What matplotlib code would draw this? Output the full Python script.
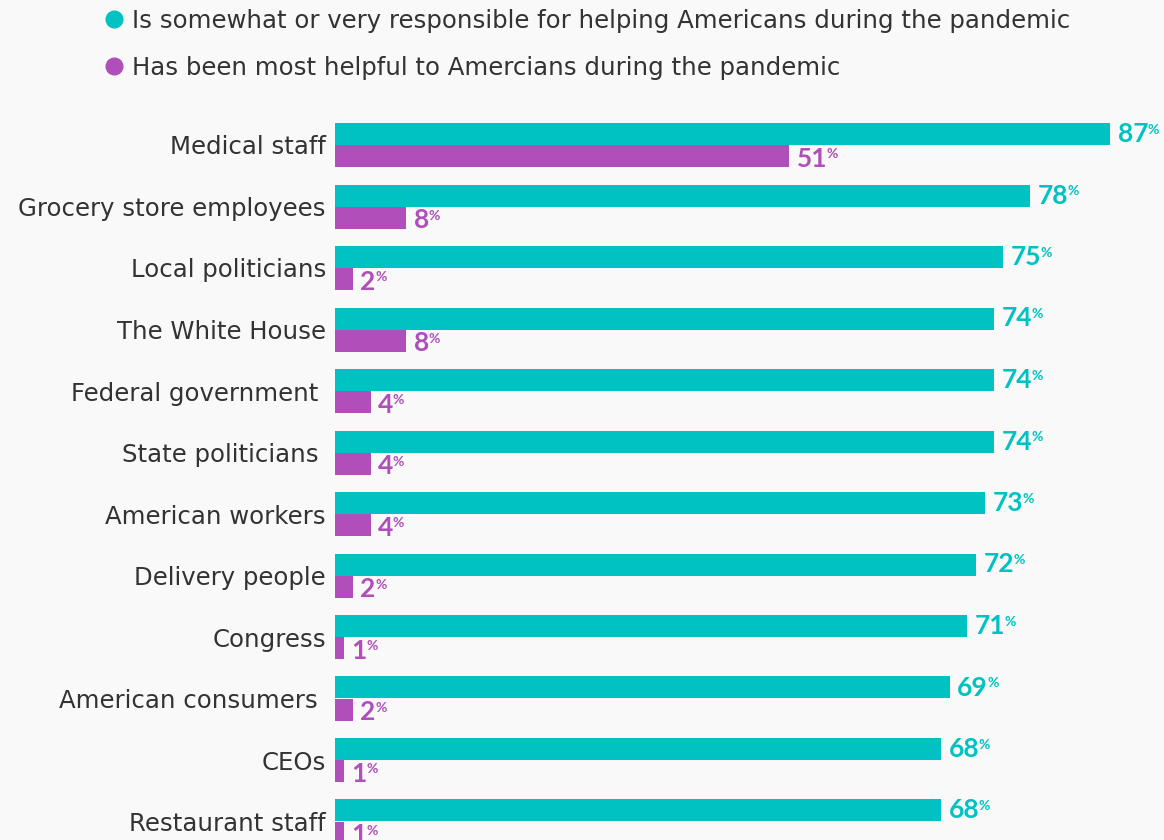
import matplotlib.pyplot as plt
from matplotlib.lines import Line2D

# Share of Americans per group
groups = ["Medical staff", "Grocery store employees", "Local politicians", "The White House",
          "Federal government ", "State politicians ", "American workers", "Delivery people",
          "Congress", "American consumers ", "CEOs", "Restaurant staff"]
responsible = [87, 78, 75, 74, 74, 74, 73, 72, 71, 69, 68, 68]
most_helpful = [51, 8, 2, 8, 4, 4, 4, 2, 1, 2, 1, 1]

legend_labels = ["Is somewhat or very responsible for helping Americans during the pandemic",
                 "Has been most helpful to Amercians during the pandemic"]

TEAL = "#00c2c2"
PURPLE = "#b04fb9"
TEXT = "#333333"
BG = "#f9f9f9"

plt.rcParams["font.family"] = ["DejaVu Sans"]

W, H = 1164, 840
fig = plt.figure(figsize=(W / 100, H / 100), dpi=100, facecolor=BG)
ax = fig.add_axes([335 / W, 0, (1110 - 335) / W, 740 / H], facecolor=BG)

row_px = 61.5
bar_h = 22 / row_px
pos = list(range(len(groups)))

ax.barh([p - bar_h / 2 for p in pos], responsible, height=bar_h, color=TEAL)
ax.barh([p + bar_h / 2 for p in pos], most_helpful, height=bar_h, color=PURPLE)

ax.set_xlim(0, 87)
ax.set_ylim(pos[0] + (840 - 145) / row_px, pos[0] - (145 - 100) / row_px)
ax.set_yticks(pos)
ax.set_yticklabels(groups, fontsize=17.6, color=TEXT)
ax.tick_params(axis="y", length=0, pad=6.5)
ax.set_xticks([])
for s in ax.spines.values():
    s.set_visible(False)


def value_label(x, y, val, color, dy):
    t = ax.annotate(str(val), xy=(x, y), xytext=(5.5, dy), textcoords="offset points",
                    ha="left", va="center", fontsize=19, fontweight="bold",
                    family=["Lato", "DejaVu Sans"], color=color, annotation_clip=False)
    ax.annotate("%", xy=(1.0, 0.93), xycoords=t, xytext=(-0.5, 0), textcoords="offset points",
                ha="left", va="top", fontsize=10, fontweight="bold",
                family=["Lato", "DejaVu Sans"], color=color)


for p, r, m in zip(pos, responsible, most_helpful):
    value_label(r, p - bar_h / 2, r, TEAL, 0)
    value_label(m, p + bar_h / 2, m, PURPLE, -2)

handles = [Line2D([], [], marker="o", linestyle="none", markersize=12, color=c)
           for c in (TEAL, PURPLE)]
fig.legend(handles, legend_labels, loc="upper left", bbox_to_anchor=(97 / W, 1 + 1 / H),
           frameon=False, fontsize=17.6, labelcolor=TEXT, handlelength=0.6,
           handletextpad=0.42, labelspacing=0.95, borderaxespad=0)

fig.savefig("out.png", dpi=100, facecolor=BG)
